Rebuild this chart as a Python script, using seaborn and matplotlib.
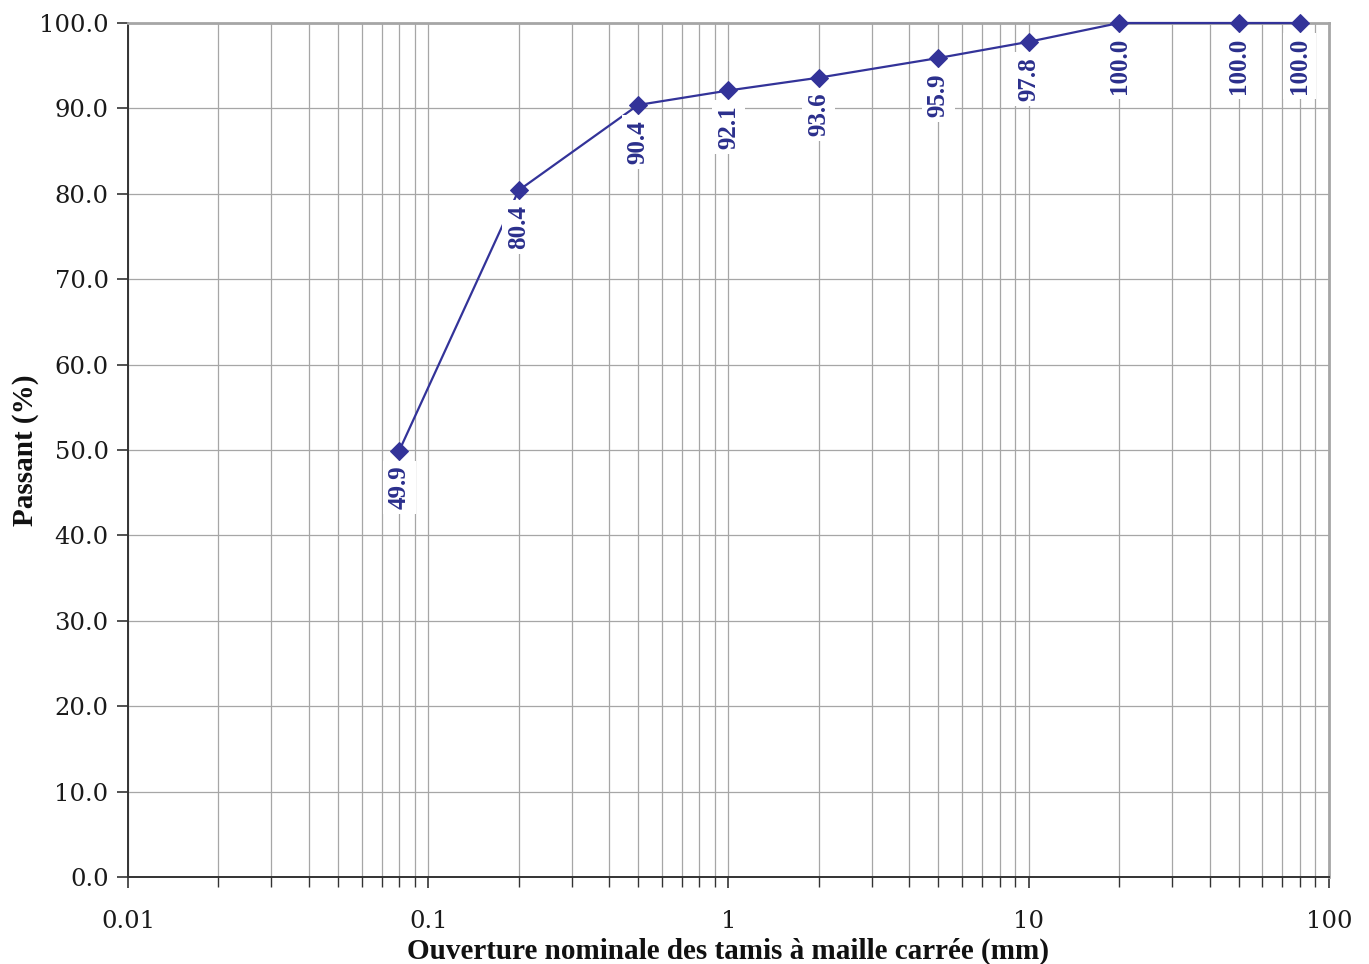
import numpy as np
import pandas as pd
import seaborn as sns
import matplotlib.pyplot as plt
from matplotlib.ticker import LogLocator, FixedLocator, FuncFormatter

# Sieve openings (mm) and cumulative passing (%)
sieve_mm = [0.08, 0.2, 0.5, 1, 2, 5, 10, 20, 50, 80]
passing = [49.9, 80.4, 90.4, 92.1, 93.6, 95.9, 97.8, 100.0, 100.0, 100.0]

x_ticks = [0.01, 0.1, 1, 10, 100]
x_tick_labels = ["0.01", "0.1", "1", "10", "100"]

line_col = "#333399"
label_col = "#2B2F8C"
grid_col = "#A6A6A6"

sns.set_style("white")
plt.rcParams["font.family"] = ["DejaVu Serif"]

df = pd.DataFrame({"sieve": sieve_mm, "passing": passing})

fig = plt.figure(figsize=(13.69, 9.64), dpi=100)
ax = fig.add_axes([128 / 1369, 1 - 877 / 964, (1329 - 128) / 1369, (877 - 23) / 964])

sns.lineplot(data=df, x="sieve", y="passing", ax=ax, color=line_col,
             marker="D", markersize=9, markeredgecolor=line_col, linewidth=1.6,
             zorder=3, clip_on=False)

ax.set_xscale("log")
ax.set_xlim(0.01, 100)
ax.set_ylim(0, 100)

ax.xaxis.set_major_locator(FixedLocator(x_ticks))
ax.set_xticklabels(x_tick_labels)
ax.xaxis.set_minor_locator(LogLocator(base=10, subs=np.arange(2, 10)))
ax.xaxis.set_minor_formatter(FuncFormatter(lambda v, p: ""))
ax.set_yticks(np.arange(0, 101, 10))
ax.yaxis.set_major_formatter(FuncFormatter(lambda v, p: f"{v:.1f}"))

ax.grid(True, which="major", axis="both", color=grid_col, linewidth=0.9, zorder=0)
ax.grid(True, which="minor", axis="x", color=grid_col, linewidth=0.9, zorder=0)
ax.set_axisbelow(True)

ax.tick_params(axis="both", which="major", direction="out", length=8, width=1.2,
               color="#333333", labelsize=17.5, labelcolor="#1a1a1a")
ax.tick_params(axis="x", which="major", pad=16)
ax.tick_params(axis="y", which="major", pad=6)
ax.tick_params(axis="x", which="minor", direction="out", length=7, width=1.0,
               color="#333333")
ax.tick_params(bottom=True, left=True, which="both")
ax.tick_params(axis="y", which="minor", left=False)

for side in ["left", "bottom"]:
    ax.spines[side].set_color("#333333")
    ax.spines[side].set_linewidth(1.4)
for side in ["top", "right"]:
    ax.spines[side].set_color("#A6A6A6")
    ax.spines[side].set_linewidth(2.0)

# Value labels under each point, rotated, on white boxes
for xv, yv in zip(sieve_mm, passing):
    ax.annotate(f"{yv:.1f}", xy=(xv, yv), xytext=(0, -15), textcoords="offset pixels",
                rotation=90, ha="center", va="top", fontsize=18, fontweight="bold",
                family="Liberation Serif", color=label_col, zorder=4,
                bbox=dict(boxstyle="square,pad=0.2", facecolor="white", edgecolor="none"))

ax.set_xlabel("Ouverture nominale des tamis à maille carrée (mm)", fontsize=21,
              fontweight="bold", family="Liberation Serif", color="#111111", labelpad=3)
ax.set_ylabel("Passant (%)", fontsize=21, fontweight="bold",
              family="Liberation Serif", color="#111111", labelpad=0)

fig.savefig("out.png", dpi=100)
